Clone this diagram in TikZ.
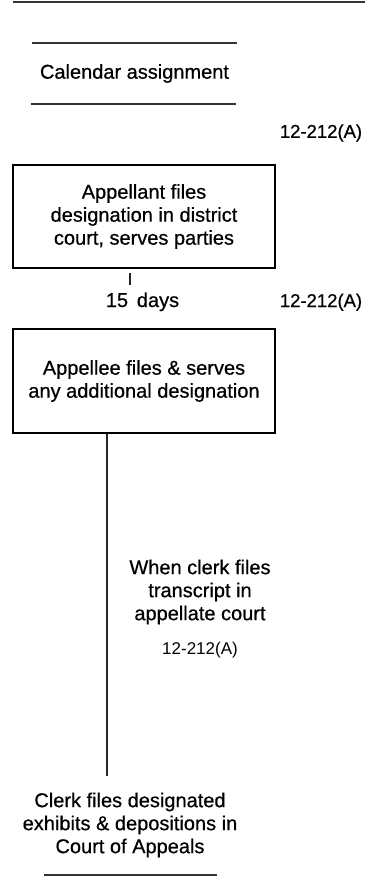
\documentclass[tikz,border=0pt]{standalone}
\usepackage{fontspec}
\setmainfont{Liberation Sans}
\newfontfamily\heavyfont[FakeBold=0.6]{Liberation Sans}
\begin{document}
\begin{tikzpicture}[x=1pt,y=-1pt,
  txt/.style={font=\heavyfont\fontsize{20}{23}\selectfont, align=center, inner sep=0pt},
  ref/.style={font=\heavyfont\fontsize{18.5}{22}\selectfont, inner sep=0pt},
  refsm/.style={font=\fontsize{17}{20}\selectfont, inner sep=0pt},
  stepbox/.style={draw, line width=1.5pt, minimum width=262pt, inner sep=0pt, font=\heavyfont\fontsize{20}{23}\selectfont, align=center},
  rule/.style={line width=1.6pt, draw=black!80},
  conn/.style={line width=1.5pt, draw=black!85}]
\useasboundingbox (0,0) rectangle (365,878);
\draw[rule, line width=2pt] (13,2) -- (365,2);
% Calendar assignment
\node[txt, minimum width=204pt, minimum height=61pt] (cal) at (134.5,73.5) {Calendar assignment};
\draw[rule] (cal.north west) -- (cal.north east);
\draw[rule] ([xshift=-1pt]cal.south west) -- ([xshift=-1pt]cal.south east);
\node[ref] (r1) at (321,133) {12-212(A)};
% Box 1
\node[stepbox, minimum height=103pt] (b1) at (144,216.5) {Appellant files\\designation in district\\court, serves parties};
\coordinate (t1) at (130,273);
\coordinate (t2) at (130,285);
\draw[conn] (t1) -- (t2);
\node[txt, anchor=base] (d15) at (117,307) {15};
\node[txt, anchor=base] (days) at (158,307) {days};
\node[ref, anchor=base] (r2) at (321,307) {12-212(A)};
% Box 2
\node[stepbox, minimum height=104pt] (b2) at (144,381) {Appellee files \& serves\\any additional designation};
\coordinate (v1) at (107,776);
\draw[conn] (b2.south -| v1) -- (v1);
\node[txt] (when) at (200,592) {When clerk files\\transcript in\\appellate court};
\node[refsm] (r3) at (200,650) {12-212(A)};
% Bottom
\node[txt] (clerk) at (130,825) {Clerk files designated\\exhibits \& depositions in\\Court of Appeals};
\coordinate (bl) at (44,875);
\coordinate (br) at (217,875);
\draw[rule] (bl) -- (br);
\end{tikzpicture}
\end{document}
